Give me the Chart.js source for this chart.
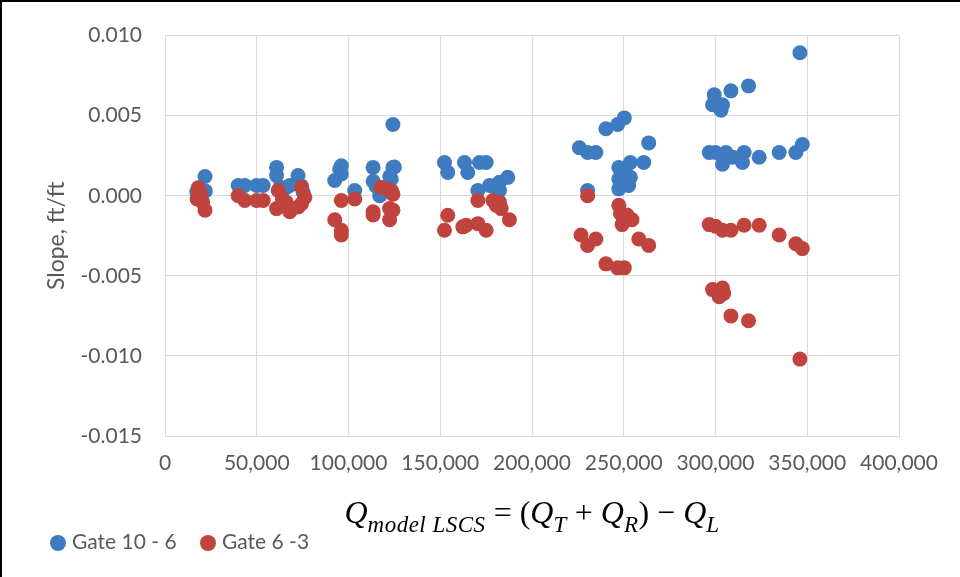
<!DOCTYPE html>
<html lang="en">
<head>
<meta charset="UTF-8">
<title>Slope vs Q model LSCS</title>
<script src="https://cdn.jsdelivr.net/npm/chart.js@4.4.1/dist/chart.umd.min.js"></script>
<style>
  body { margin: 0; background: #fff; }
  #wrap { position: relative; width: 960px; height: 577px; background: #fff; }
  #chart { position: absolute; left: 0; top: 0; }
  .edge { position: absolute; background: #000; }
  .leg { position: absolute; top: 528px; font: 21px Lato, sans-serif; color: #595959; line-height: 26px; white-space: nowrap; }
  .dot { display: inline-block; width: 16px; height: 16px; border-radius: 50%; vertical-align: -2px; margin-right: 6px; }
  #formula { position: absolute; left: 0; width: 1064px; top: 494px; text-align: center; font: 32px "Liberation Serif", serif; color: #000; white-space: nowrap; }
  #formula i { font-style: italic; }
  #formula sub { font-size: 23px; font-style: italic; vertical-align: -9px; line-height: 0; letter-spacing: 0.5px; }
</style>
</head>
<body>
<div id="wrap">
  <canvas id="chart" width="960" height="577"></canvas>
  <div class="edge" style="left:0;top:0;width:2px;height:577px"></div>
  <div class="edge" style="left:0;top:0;width:960px;height:2px"></div>
  <div id="formula"><i>Q</i><sub>model LSCS</sub> = (<i>Q</i><sub>T</sub> + <i>Q</i><sub>R</sub>) − <i>Q</i><sub>L</sub></div>
  <div class="leg" style="left:50px"><span class="dot" style="background:#3E7BC1"></span>Gate 10 - 6</div>
  <div class="leg" style="left:200px"><span class="dot" style="background:#C0433E"></span>Gate 6 -3</div>
</div>
<script>
  // Gate 10 - 6 (blue)
  var gate106X = [17300, 19500, 21800, 22000,
    39900, 43500, 49900, 53500,
    60800, 60800, 62700, 66000, 68000, 72500, 74400, 75300,
    92500, 95200, 96100, 96100, 103400,
    113400, 113400, 115000, 117000, 122500, 123300, 123300, 124200, 124200, 125000,
    152300, 154100, 163200, 165000,
    170500, 171400, 175000, 176900, 179000, 182300, 182300, 186800,
    225800, 230300, 230300, 234800, 240300, 246700, 247300, 247300, 247300, 249000, 250300, 250900, 252700, 253600, 253600, 260900, 263600,
    296600, 298400, 299300, 300000, 303000, 303800, 303800, 305700, 308400, 309300, 314700, 315600, 318000, 323800, 334700, 343800, 346000, 347300];
  var gate106Y = [0.00025, 0.0003, 0.0012, 0.0003,
    0.00064, 0.00064, 0.00064, 0.00064,
    0.00177, 0.00126, 0.00053, 0.0005, 0.00064, 0.00126, 0.0006, 0.0002,
    0.00095, 0.00167, 0.00187, 0.00136, 0.00033,
    0.00177, 0.0009, 0.0006, 0.0, 0.0012, 0.00105, 0.00033, 0.00445, 0.00177, 0.0018,
    0.00208, 0.00146, 0.00208, 0.00146,
    0.00033, 0.00208, 0.00208, 0.00064, 0.0006, 0.00084, 0.00033, 0.00115,
    0.0030, 0.0027, 0.00033, 0.0027, 0.00418, 0.00445, 0.00177, 0.00105, 0.00043, 0.0008, 0.00486, 0.00146, 0.00064, 0.00208, 0.00115, 0.00208, 0.0033,
    0.0027, 0.00568, 0.0063, 0.0027, 0.00534, 0.00568, 0.00197, 0.0027, 0.00655, 0.0024, 0.00208, 0.0027, 0.00686, 0.0024, 0.0027, 0.0027, 0.00893, 0.0032];

  // Gate 6 -3 (red)
  var gate63X = [17500, 18000, 18100, 19500, 20500, 21800,
    39900, 43500, 49900, 53500,
    60800, 61700, 64000, 66000, 68000, 72500, 74400, 74400, 76200,
    92500, 96100, 96100, 96100, 103400,
    113400, 113400, 117600, 121500, 122400, 122400, 123300, 124200, 124200,
    152300, 154100, 162300, 164100,
    170500, 170500, 175000, 178700, 180500, 182300, 183200, 187700,
    226700, 230300, 230300, 234800, 240300, 246700, 247300, 248200, 249100, 250000, 250300, 251800, 254500, 258200, 263600,
    296600, 298400, 300000, 302000, 303800, 303800, 304500, 308400, 308400, 315600, 318000, 323800, 334700, 343800, 346000, 347300];
  var gate63Y = [-0.0002, -0.0001, 0.0005, 0.0001, -0.0004, -0.0009,
    0.0, -0.0003, -0.0003, -0.0003,
    -0.0008, 0.00033, -0.0002, -0.0004, -0.001, -0.0007, 0.00053, -0.0005, -0.0001,
    -0.0015, -0.0003, -0.00215, -0.00245, -0.0002,
    -0.001, -0.0012, 0.00053, 0.0004, -0.0008, -0.0015, 0.0003, 0.0001, -0.0009,
    -0.00215, -0.00122, -0.00194, -0.00184,
    -0.00174, -0.0003, -0.00215, -0.0003, -0.0006, -0.0004, -0.0008, -0.0015,
    -0.00245, 0.0, -0.0031, -0.0027, -0.00425, -0.0045, -0.0006, -0.0011, -0.0018, -0.0014, -0.0045, -0.0012, -0.0015, -0.0027, -0.0031,
    -0.0018, -0.00586, -0.0019, -0.0063, -0.00215, -0.00576, -0.0061, -0.00215, -0.0075, -0.00184, -0.0078, -0.00184, -0.00245, -0.003, -0.0102, -0.0033];

  var seriesNames = ['Gate 10 - 6', 'Gate 6 -3'];
  var xMin = 0, xMax = 400000, xStep = 50000;
  var yMin = -0.015, yMax = 0.010, yStep = 0.005;

  function toPoints(xs, ys) {
    return xs.map(function (x, i) { return {x: x, y: ys[i]}; });
  }

  var tickFont = {family: 'Lato', size: 21};
  var gray = '#595959';
  var gridGray = '#d9d9d9';

  new Chart(document.getElementById('chart'), {
    type: 'scatter',
    data: {
      datasets: [
        {label: seriesNames[0], data: toPoints(gate106X, gate106Y), backgroundColor: '#3E7BC1', borderColor: '#3E7BC1',
          borderWidth: 0, pointRadius: 7.5, pointHoverRadius: 7.5, order: 1},
        {label: seriesNames[1], data: toPoints(gate63X, gate63Y), backgroundColor: '#C0433E', borderColor: '#C0433E',
          borderWidth: 0, pointRadius: 7.5, pointHoverRadius: 7.5, order: 0}
      ]
    },
    options: {
      responsive: false,
      animation: false,
      layout: {padding: {left: 0, top: 32, right: 61, bottom: 0}},
      plugins: {legend: {display: false}, tooltip: {enabled: false}},
      scales: {
        x: {
          type: 'linear', min: xMin, max: xMax,
          ticks: {stepSize: xStep, padding: 15, color: gray, font: tickFont,
            callback: function (v) { return v.toLocaleString('en-US'); }},
          grid: {color: gridGray, drawTicks: false},
          border: {color: gridGray},
          afterFit: function (s) { s.height = 141; }
        },
        y: {
          min: yMin, max: yMax,
          ticks: {stepSize: yStep, padding: 23, color: gray, font: tickFont,
            callback: function (v) { return Math.abs(v) < 1e-9 ? '0.000' : v.toFixed(3); }},
          grid: {color: gridGray, drawTicks: false},
          border: {color: gridGray},
          title: {display: true, text: 'Slope, ft/ft', color: gray, font: {family: 'Lato', size: 23}, padding: {top: 43, bottom: 0}},
          afterFit: function (s) { s.width = 165; }
        }
      }
    }
  });
</script>
</body>
</html>
